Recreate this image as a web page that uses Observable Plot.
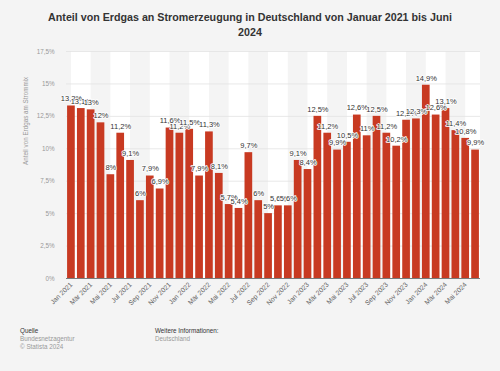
<!DOCTYPE html>
<html><head><meta charset="utf-8">
<script src="https://cdn.jsdelivr.net/npm/d3@7"></script>
<script src="https://cdn.jsdelivr.net/npm/@observablehq/plot@0.6"></script>
<style>
body{margin:0;background:#f4f4f4;font-family:"Liberation Sans",Arial,sans-serif}
#wrap{position:relative;width:500px;height:371px;overflow:hidden;background:#f4f4f4}
#title{position:absolute;left:40px;width:420px;top:10px;text-align:center;font-weight:bold;font-size:10.7px;line-height:15px;color:#333}
#chart{position:absolute;top:44px;left:0}
.f{position:absolute;font-size:6.3px;line-height:8px}
.h{color:#333}
.g{color:#999}
</style></head><body>
<div id="wrap">
<div id="title">Anteil von Erdgas an Stromerzeugung in Deutschland von Januar 2021 bis Juni 2024</div>
<div id="chart"></div>
<div class="f" style="left:20px;top:327px"><div class="h">Quelle</div><div class="g">Bundesnetzagentur</div><div class="g">© Statista 2024</div></div>
<div class="f" style="left:155px;top:327px"><div class="h">Weitere Informationen:</div><div class="g">Deutschland</div></div>
</div>
<script>
const months = [
 "Jan 2021","Feb 2021","Mär 2021","Apr 2021","Mai 2021","Jun 2021","Jul 2021","Aug 2021","Sep 2021","Okt 2021","Nov 2021","Dez 2021",
 "Jan 2022","Feb 2022","Mär 2022","Apr 2022","Mai 2022","Jun 2022","Jul 2022","Aug 2022","Sep 2022","Okt 2022","Nov 2022","Dez 2022",
 "Jan 2023","Feb 2023","Mär 2023","Apr 2023","Mai 2023","Jun 2023","Jul 2023","Aug 2023","Sep 2023","Okt 2023","Nov 2023","Dez 2023",
 "Jan 2024","Feb 2024","Mär 2024","Apr 2024","Mai 2024","Jun 2024"];
const values = [
 13.3,13.1,13,12,8,11.2,9.1,6,7.9,6.9,11.6,11.2,
 11.5,7.9,11.3,8.1,5.7,5.4,9.7,6,5,5.6,5.6,9.1,
 8.4,12.5,11.2,9.9,10.5,12.6,11,12.5,11.2,10.2,12.2,12.3,
 14.9,12.6,13.1,11.4,10.8,9.9];
const yTicks = [0,2.5,5,7.5,10,12.5,15,17.5];
const yTitle = "Anteil von Erdgas am Strommix";

const data = months.map((m,i)=>({i, month:m, value:values[i]}));
const xTicks = months.map((m,i)=>i).filter(i=>i%2===0);
const bands = months.map((m,i)=>i).filter(i=>i%4===0);
const fmt = v => String(v).replace(".", ",") + "%";
const red = "#c83a22";

const chart = Plot.plot({
  width:500, height:280,
  marginLeft:66, marginRight:20, marginTop:7, marginBottom:46,
  style:{background:"transparent", fontFamily:"'Liberation Sans', Arial, sans-serif"},
  x:{domain:[-0.5,41.5]},
  y:{domain:[0,17.5]},
  marks:[
    Plot.rect(bands, {x1:d=>d, x2:d=>Math.min(d+2,41.5), y1:0, y2:17.5, fill:"#ffffff"}),
    Plot.ruleY(yTicks.slice(1), {stroke:"#e2e2e2", strokeWidth:0.8}),
    Plot.rectY(data, {x1:d=>d.i-0.39, x2:d=>d.i+0.39, y1:0, y2:"value", fill:red}),
    Plot.ruleY([0], {stroke:"#7a7a7a", strokeWidth:1}),
    Plot.text(data, {x:"i", y:"value", text:d=>fmt(d.value), dy:-7, fontSize:7.5, fill:"#333", stroke:"#fff", strokeWidth:1.5}),
    Plot.axisY({ticks:yTicks, tickFormat:fmt, tickSize:0, tickPadding:12, fontSize:6.3, color:"#999", label:null}),
    Plot.axisX({ticks:xTicks, tickFormat:i=>months[i], tickRotate:-45, tickSize:0, tickPadding:5, fontSize:6.8, color:"#666", label:null}),
    Plot.text([yTitle], {frameAnchor:"left", dx:-41, rotate:-90, fontSize:6.3, fill:"#999"})
  ]
});
document.getElementById("chart").appendChild(chart);
</script>
</body></html>
